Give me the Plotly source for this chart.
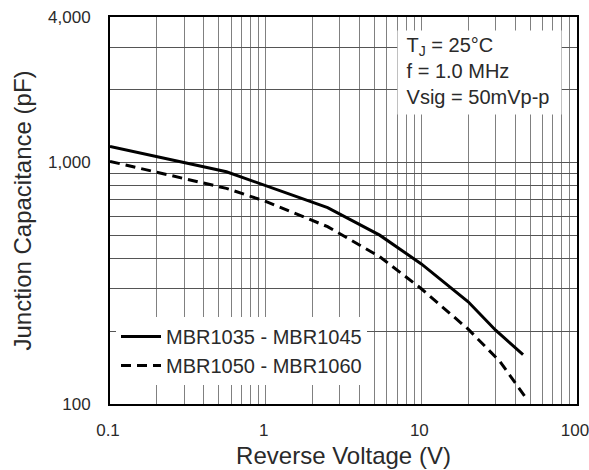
import plotly.graph_objects as go
import math

# ---- data ----
v_solid = [0.1, 0.56, 2.5, 5.4, 10, 20, 30, 45]
c_solid = [1165, 915, 650, 500, 380, 265, 202, 160]
v_dash = [0.1, 0.56, 1.0, 2.5, 5.4, 10, 20, 32, 46]
c_dash = [1010, 781, 690, 542, 407, 300, 204, 150, 108]
name_solid = "MBR1035 - MBR1045"
name_dash = "MBR1050 - MBR1060"

x_tickvals = [0.1, 0.2, 0.3, 0.4, 0.5, 0.6, 0.7, 0.8, 0.9,
              1, 2, 3, 4, 5, 6, 7, 8, 9,
              10, 20, 30, 40, 50, 60, 70, 80, 90, 100]
x_ticktext = ["0.1"] + [" "] * 8 + ["1"] + [" "] * 8 + ["10"] + [" "] * 8 + ["100"]
y_tickvals = [100, 200, 300, 400, 500, 600, 700, 800, 900,
              1000, 2000, 3000, 4000]
y_ticktext = ["100"] + [" "] * 8 + ["1,000", " ", " ", "4,000"]
cond_lines = ["T<sub>J</sub> = 25°C", "f = 1.0 MHz", "Vsig = 50mVp-p"]

FONT = "Arial, Liberation Sans, sans-serif"
TXT = "#2a2a2a"

fig = go.Figure()
fig.add_trace(go.Scatter(x=v_solid, y=c_solid, mode="lines", name=name_solid,
                         line=dict(color="black", width=3)))
fig.add_trace(go.Scatter(x=v_dash, y=c_dash, mode="lines", name=name_dash,
                         line=dict(color="black", width=3, dash="10px,6px")))

W, H = 589, 470
ml, mr, mt, mb = 110, 12, 17, 66
pw, ph = W - ml - mr, H - mt - mb

def px2paper_x(px):
    return (px - ml) / pw

def px2paper_y(py):
    return (H - mb - py) / ph

# test-condition block on its own white box
fig.add_annotation(xref="paper", yref="paper",
                   x=px2paper_x(397), y=px2paper_y(30),
                   xanchor="left", yanchor="top",
                   width=157, height=77, borderpad=3,
                   align="left", valign="top",
                   bgcolor="white",
                   text="&nbsp;" + "<br>&nbsp;".join(cond_lines),
                   showarrow=False,
                   font=dict(family=FONT, size=20, color=TXT))

fig.update_layout(
    width=W, height=H,
    margin=dict(l=ml, r=mr, t=mt, b=mb),
    paper_bgcolor="white", plot_bgcolor="white",
    font=dict(family=FONT, color=TXT),
    showlegend=True,
    legend=dict(x=px2paper_x(116), y=px2paper_y(317), xanchor="left", yanchor="top",
                bgcolor="white", borderwidth=0,
                font=dict(family=FONT, size=20, color=TXT),
                itemwidth=40, tracegroupgap=0),
)
fig.update_xaxes(type="log", range=[-1, 2], automargin=False,
                 tickmode="array", tickvals=x_tickvals, ticktext=x_ticktext,
                 showgrid=True, gridcolor="#808080", gridwidth=1,
                 showline=True, linecolor="black", linewidth=2, mirror=True,
                 ticks="", ticklabelstandoff=10, zeroline=False, tickangle=0,
                 ticklabeloverflow="allow", ticklabelshift=-2,
                 tickfont=dict(family=FONT, size=17, color=TXT),
                 title=dict(text="Reverse Voltage (V)", standoff=8,
                            font=dict(family=FONT, size=24, color=TXT)))
fig.update_yaxes(type="log", range=[2, math.log10(4000)], automargin=False,
                 tickmode="array", tickvals=y_tickvals, ticktext=y_ticktext,
                 showgrid=True, gridcolor="#555555", gridwidth=1,
                 showline=True, linecolor="black", linewidth=2, mirror=True,
                 ticks="", ticklabelstandoff=14, zeroline=False,
                 tickfont=dict(family=FONT, size=17, color=TXT),
                 title=dict(text="Junction Capacitance (pF)", standoff=10,
                            font=dict(family=FONT, size=24, color=TXT)))

fig.write_html("out.html")
